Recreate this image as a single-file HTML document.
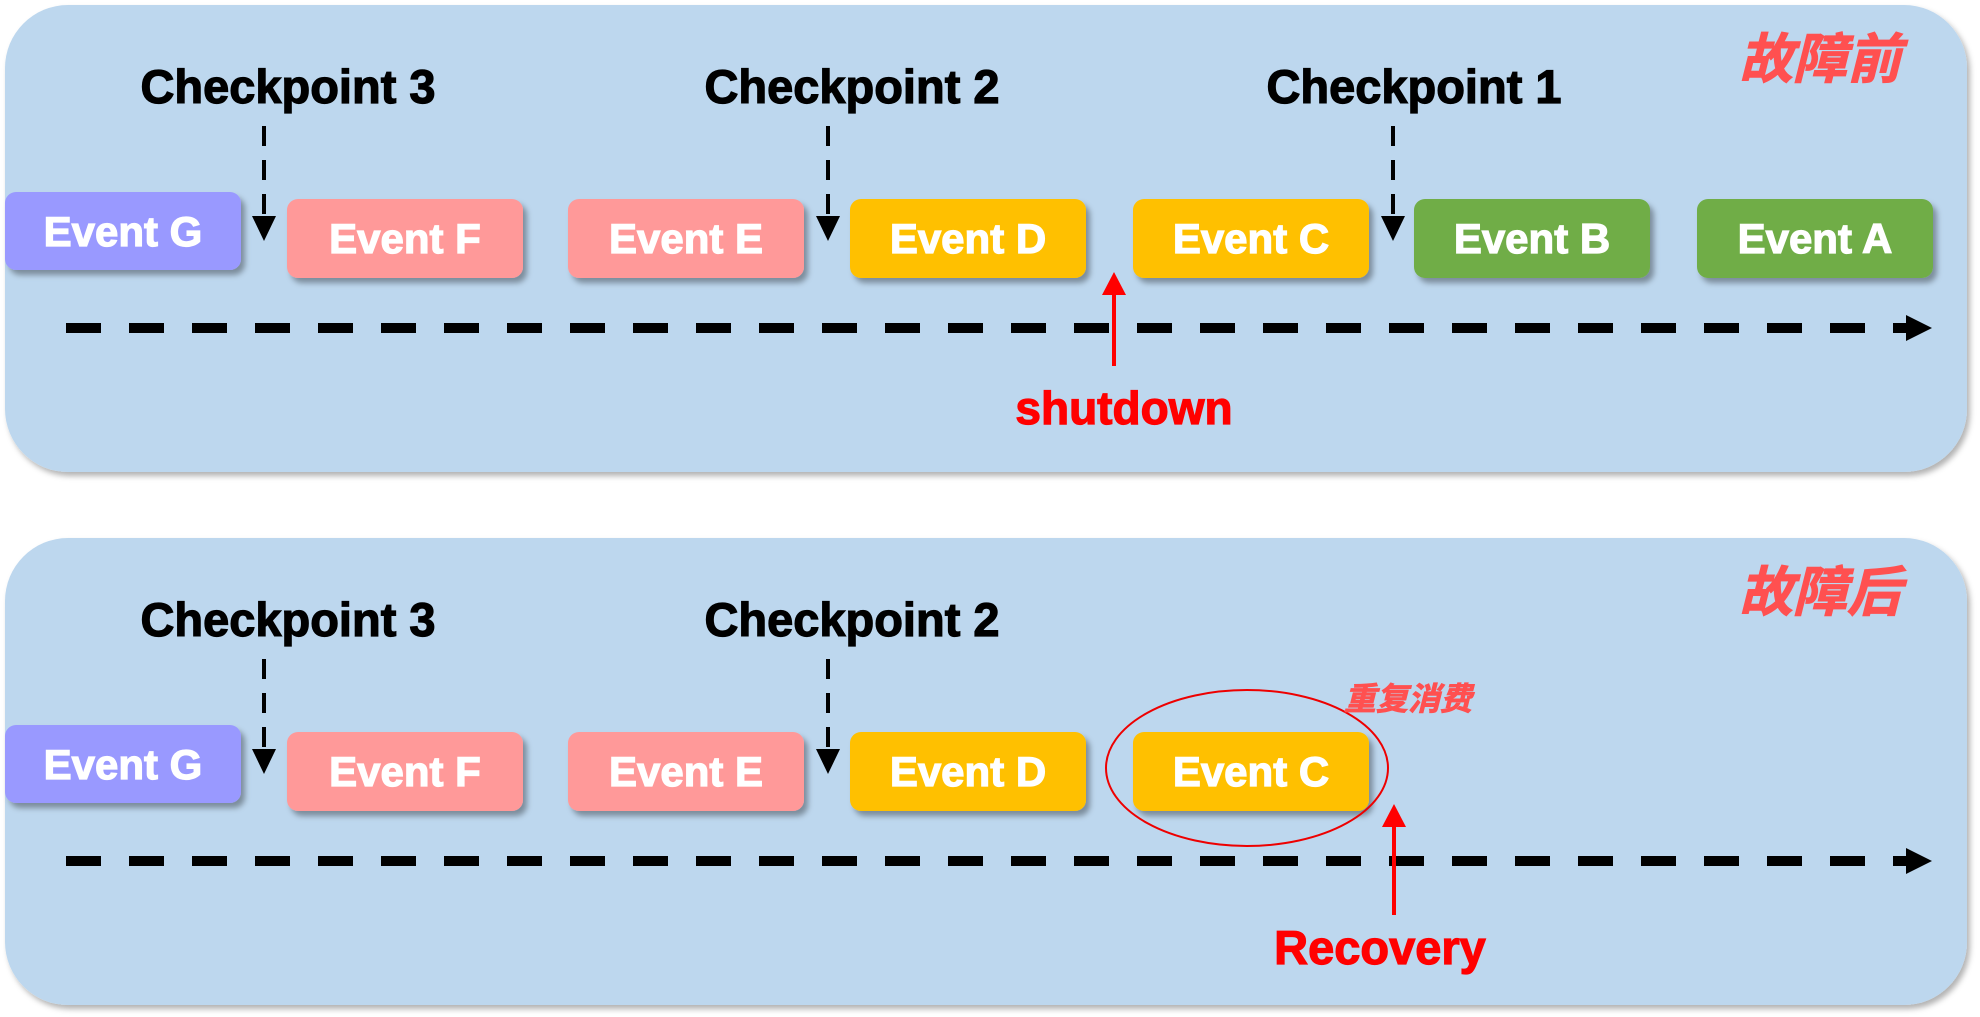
<!DOCTYPE html>
<html><head><meta charset="utf-8"><style>
html,body{margin:0;padding:0;background:#fff;}
svg{display:block}
text{font-family:"Liberation Sans","Noto Sans CJK SC",sans-serif;font-weight:bold}
</style></head><body>
<svg width="1980" height="1017" viewBox="0 0 1980 1017" xmlns="http://www.w3.org/2000/svg">
<defs>
<filter id="sh" x="-10%" y="-10%" width="130%" height="140%"><feDropShadow dx="4" dy="5" stdDeviation="3" flood-color="#000" flood-opacity="0.35"/></filter>
<filter id="sh2" x="-5%" y="-5%" width="110%" height="115%"><feDropShadow dx="3" dy="4" stdDeviation="3" flood-color="#000" flood-opacity="0.3"/></filter>
</defs>

<g id="top">
<rect x="5" y="5" width="1962" height="467" rx="63" fill="#bdd7ee" filter="url(#sh2)"/>
<g font-size="47" text-anchor="middle" fill="#000" stroke="#000" stroke-width="1.2">
<text x="288" y="103">Checkpoint 3</text>
<text x="852" y="103">Checkpoint 2</text>
<text x="1414" y="103">Checkpoint 1</text>
</g>
<text x="1820" y="78" font-size="54" font-style="italic" text-anchor="middle" fill="#ff5050" stroke="#ff5050" stroke-width="1">故障前</text>

<g stroke="#000" stroke-width="4" stroke-dasharray="20,14">
<line x1="264" y1="126" x2="264" y2="215"/>
<line x1="828" y1="126" x2="828" y2="215"/>
<line x1="1393" y1="126" x2="1393" y2="215"/>
</g>
<path d="M252,216 L276,216 L264,241 Z M816,216 L840,216 L828,241 Z M1381,216 L1405,216 L1393,241 Z" fill="#000"/>

<g filter="url(#sh)">
<rect x="5" y="192" width="236" height="78" rx="11" fill="#9999ff"/>
<rect x="287" y="199" width="236" height="79" rx="11" fill="#ff9999"/>
<rect x="568" y="199" width="236" height="79" rx="11" fill="#ff9999"/>
<rect x="850" y="199" width="236" height="79" rx="11" fill="#ffc000"/>
<rect x="1133" y="199" width="236" height="79" rx="11" fill="#ffc000"/>
<rect x="1414" y="199" width="236" height="79" rx="11" fill="#70ad47"/>
<rect x="1697" y="199" width="236" height="79" rx="11" fill="#70ad47"/>
</g>
<g fill="#fff" stroke="#fff" stroke-width="1.2" font-size="42" text-anchor="middle">
<text x="123" y="246">Event G</text>
<text x="405" y="253">Event F</text>
<text x="686" y="253">Event E</text>
<text x="968" y="253">Event D</text>
<text x="1251" y="253">Event C</text>
<text x="1532" y="253">Event B</text>
<text x="1815" y="253">Event A</text>
</g>

<line x1="66" y1="328" x2="1910" y2="328" stroke="#000" stroke-width="10" stroke-dasharray="35,28"/>
<path d="M1906,315 L1932,328 L1906,341 Z" fill="#000"/>

<line x1="1114" y1="366" x2="1114" y2="290" stroke="#f00" stroke-width="4"/>
<path d="M1102,295 L1126,295 L1114,272 Z" fill="#f00"/>
<text x="1124" y="424" font-size="46" text-anchor="middle" fill="#f00" stroke="#f00" stroke-width="1.2">shutdown</text>
</g>

<g id="bottom" transform="translate(0,533)">
<rect x="5" y="5" width="1962" height="467" rx="63" fill="#bdd7ee" filter="url(#sh2)"/>
<g font-size="47" text-anchor="middle" fill="#000" stroke="#000" stroke-width="1.2">
<text x="288" y="103">Checkpoint 3</text>
<text x="852" y="103">Checkpoint 2</text>
</g>
<text x="1820" y="78" font-size="54" font-style="italic" text-anchor="middle" fill="#ff5050" stroke="#ff5050" stroke-width="1">故障后</text>

<g stroke="#000" stroke-width="4" stroke-dasharray="20,14">
<line x1="264" y1="126" x2="264" y2="215"/>
<line x1="828" y1="126" x2="828" y2="215"/>
</g>
<path d="M252,216 L276,216 L264,241 Z M816,216 L840,216 L828,241 Z" fill="#000"/>

<g filter="url(#sh)">
<rect x="5" y="192" width="236" height="78" rx="11" fill="#9999ff"/>
<rect x="287" y="199" width="236" height="79" rx="11" fill="#ff9999"/>
<rect x="568" y="199" width="236" height="79" rx="11" fill="#ff9999"/>
<rect x="850" y="199" width="236" height="79" rx="11" fill="#ffc000"/>
<rect x="1133" y="199" width="236" height="79" rx="11" fill="#ffc000"/>
</g>
<g fill="#fff" stroke="#fff" stroke-width="1.2" font-size="42" text-anchor="middle">
<text x="123" y="246">Event G</text>
<text x="405" y="253">Event F</text>
<text x="686" y="253">Event E</text>
<text x="968" y="253">Event D</text>
<text x="1251" y="253">Event C</text>
</g>
<ellipse cx="1247" cy="235" rx="141" ry="78" fill="none" stroke="#e00" stroke-width="2"/>
<text x="1408" y="177" font-size="32" font-style="italic" text-anchor="middle" fill="#ff5050" stroke="#ff5050" stroke-width="0.8">重复消费</text>

<line x1="66" y1="328" x2="1910" y2="328" stroke="#000" stroke-width="10" stroke-dasharray="35,28"/>
<path d="M1906,315 L1932,328 L1906,341 Z" fill="#000"/>

<line x1="1394" y1="382" x2="1394" y2="290" stroke="#f00" stroke-width="4"/>
<path d="M1382,294 L1406,294 L1394,271 Z" fill="#f00"/>
<text x="1380" y="431" font-size="47" text-anchor="middle" fill="#f00" stroke="#f00" stroke-width="1.2">Recovery</text>
</g>
</svg>
</body></html>
